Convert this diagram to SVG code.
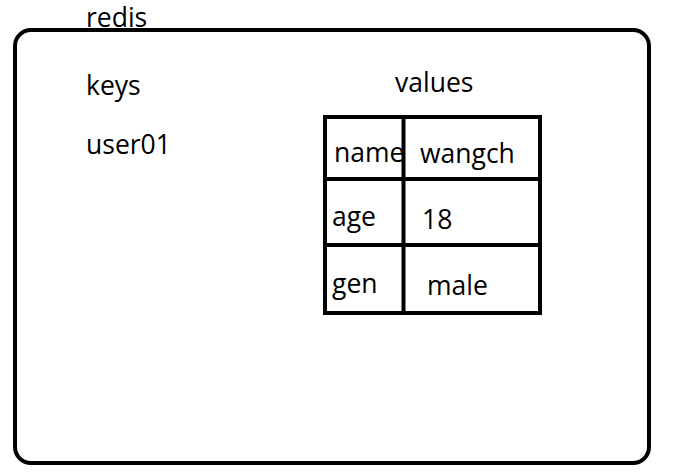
<svg xmlns="http://www.w3.org/2000/svg" width="674" height="475" viewBox="0 0 674 475">
  <style>
    .t { font-family: "Open Sans", "Noto Sans", "Liberation Sans", sans-serif; font-size: 26.5px; fill: #000; }
    .frame { fill: none; stroke: #000; stroke-width: 4; }
    .grid { fill: none; stroke: #000; stroke-width: 4; stroke-linecap: square; }
  </style>
  <rect width="674" height="475" fill="#fff"/>

  <!-- redis container -->
  <g id="redis">
    <text class="t" x="86" y="27">redis</text>
    <rect class="frame" x="15" y="30" width="634" height="433" rx="16" ry="16"/>
  </g>

  <!-- key column -->
  <g id="keys">
    <text class="t" x="86" y="95">keys</text>
    <text class="t" x="86" y="154">user01</text>
  </g>

  <!-- hash value table -->
  <g id="values">
    <text class="t" x="395" y="92">values</text>
    <text class="t" x="334" y="162">name</text>
    <text class="t" x="420" y="163">wangch</text>
    <text class="t" x="332" y="226">age</text>
    <text class="t" x="422" y="229">18</text>
    <text class="t" x="332" y="293">gen</text>
    <text class="t" x="427" y="295">male</text>
    <rect class="grid" x="325" y="117" width="215" height="196"/>
    <line class="grid" x1="403.5" y1="117" x2="403.5" y2="313"/>
    <line class="grid" x1="325" y1="179" x2="540" y2="179"/>
    <line class="grid" x1="325" y1="245" x2="540" y2="245"/>
  </g>

  <g id="connectors"></g>
</svg>
